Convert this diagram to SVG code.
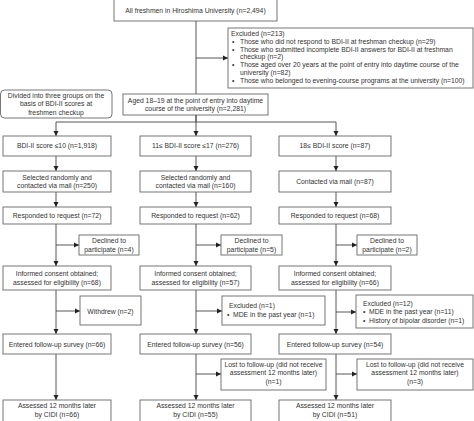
<svg xmlns="http://www.w3.org/2000/svg" width="474" height="421" viewBox="0 0 474 421">
<defs>
<marker id="ah" markerWidth="6" markerHeight="6" refX="5" refY="3" orient="auto" markerUnits="userSpaceOnUse">
<path d="M0,0.5 L5,3 L0,5.5 Z" fill="#222"/>
</marker>
<style>
rect{fill:#fff;stroke:#666;stroke-width:0.9}
text{font-family:"Liberation Sans",Arial,sans-serif;font-size:6.8px;fill:#333}
.c{text-anchor:middle}
.ln{fill:none;stroke:#444;stroke-width:0.9}
.ar{fill:none;stroke:#444;stroke-width:0.9;marker-end:url(#ah)}
</style>
</defs>
<rect x="0" y="0" width="474" height="421" style="fill:#fff;stroke:none"/>
<g id="connectors">
<path class="ln" d="M196,21 V122"/>
<path class="ar" d="M196,58 H228"/>
<path class="ln" d="M56,122 H336"/>
<path class="ar" d="M56,122 V136"/>
<path class="ar" d="M196,115 V136"/>
<path class="ar" d="M336,122 V136"/>
<path class="ar" d="M56,156 V171"/>
<path class="ar" d="M196,156 V171"/>
<path class="ar" d="M336,156 V171"/>
<path class="ar" d="M56,192 V207"/>
<path class="ar" d="M196,192 V207"/>
<path class="ar" d="M336,192 V207"/>
<path class="ar" d="M56,224 V266"/>
<path class="ar" d="M196,224 V266"/>
<path class="ar" d="M336,224 V266"/>
<path class="ar" d="M56,245 H79"/>
<path class="ar" d="M196,245 H221"/>
<path class="ar" d="M336,245 H357"/>
<path class="ar" d="M56,290 V334"/>
<path class="ar" d="M196,290 V334"/>
<path class="ar" d="M336,290 V334"/>
<path class="ar" d="M56,311 H80"/>
<path class="ar" d="M196,311 H222"/>
<path class="ar" d="M336,312 H356"/>
<path class="ar" d="M56,354 V400"/>
<path class="ar" d="M196,354 V400"/>
<path class="ar" d="M336,354 V400"/>
<path class="ar" d="M196,374 H221"/>
<path class="ar" d="M336,374 H357"/>
</g>
<g id="all"><rect x="114" y="-1" width="163" height="22"/><text class="c" x="195.5" y="12.5">All freshmen in Hiroshima University (n=2,494)</text></g>
<g id="excluded1"><rect x="228" y="28" width="245" height="60"/>
<text x="231" y="35.5">Excluded (n=213)</text>
<text x="232" y="43.5">•</text><text x="240" y="43.5">Those who did not respond to BDI-II at freshman checkup (n=29)</text>
<text x="232" y="51.5">•</text><text x="240" y="51.5">Those who submitted incomplete BDI-II answers for BDI-II at freshman</text>
<text x="240" y="59">checkup (n=2)</text>
<text x="232" y="67">•</text><text x="240" y="67">Those aged over 20 years at the point of entry into daytime course of the</text>
<text x="240" y="74.5">university (n=82)</text>
<text x="232" y="83">•</text><text x="240" y="83">Those who belonged to evening-course programs at the university (n=100)</text>
</g>
<g id="divided"><rect x="0.5" y="90" width="111.5" height="28" rx="4"/>
<text class="c" x="56" y="97.5">Divided into three groups on the</text>
<text class="c" x="56" y="106">basis of BDI-II scores at</text>
<text class="c" x="56" y="114.5">freshmen checkup</text></g>
<g id="aged"><rect x="123" y="94" width="145" height="21"/>
<text class="c" x="195.5" y="102.5">Aged 18–19 at the point of entry into daytime</text>
<text class="c" x="195.5" y="111">course of the university (n=2,281)</text></g>
<g id="bdi1"><rect x="3" y="136" width="108" height="20"/><text class="c" x="57" y="148">BDI-II score ≤10 (n=1,918)</text></g>
<g id="bdi2"><rect x="140" y="136" width="111" height="20"/><text class="c" x="195.5" y="148">11≤ BDI-II score ≤17 (n=276)</text></g>
<g id="bdi3"><rect x="279" y="136" width="112" height="20"/><text class="c" x="335" y="148">18≤ BDI-II score (n=87)</text></g>
<g id="sel1"><rect x="3" y="171" width="108" height="21"/><text class="c" x="57" y="179.5">Selected randomly and</text><text class="c" x="57" y="188">contacted via mail (n=250)</text></g>
<g id="sel2"><rect x="140" y="171" width="111" height="21"/><text class="c" x="195.5" y="179.5">Selected randomly and</text><text class="c" x="195.5" y="188">contacted via mail (n=160)</text></g>
<g id="sel3"><rect x="279" y="171" width="112" height="21"/><text class="c" x="335" y="184">Contacted  via mail (n=87)</text></g>
<g id="resp1"><rect x="3" y="207" width="108" height="17"/><text class="c" x="57" y="218">Responded to request (n=72)</text></g>
<g id="resp2"><rect x="140" y="207" width="111" height="17"/><text class="c" x="195.5" y="218">Responded to request (n=62)</text></g>
<g id="resp3"><rect x="279" y="207" width="112" height="17"/><text class="c" x="335" y="218">Responded to request (n=68)</text></g>
<g id="dec1"><rect x="79" y="235" width="60" height="20"/><text class="c" x="109" y="243">Declined to</text><text class="c" x="109" y="251.5">participate (n=4)</text></g>
<g id="dec2"><rect x="221" y="235" width="61" height="20"/><text class="c" x="251.5" y="243">Declined to</text><text class="c" x="251.5" y="251.5">participate (n=5)</text></g>
<g id="dec3"><rect x="357" y="235" width="60" height="20"/><text class="c" x="387" y="243">Declined to</text><text class="c" x="387" y="251.5">participate (n=2)</text></g>
<g id="inf1"><rect x="3" y="266" width="108" height="24"/><text class="c" x="57" y="275.5">Informed consent obtained;</text><text class="c" x="57" y="284.5">assessed for eligibility (n=68)</text></g>
<g id="inf2"><rect x="140" y="266" width="111" height="24"/><text class="c" x="195.5" y="275.5">Informed consent obtained;</text><text class="c" x="195.5" y="284.5">assessed for eligibility (n=57)</text></g>
<g id="inf3"><rect x="279" y="266" width="112" height="24"/><text class="c" x="335" y="275.5">Informed consent obtained;</text><text class="c" x="335" y="284.5">assessed for eligibility (n=66)</text></g>
<g id="withdrew"><rect x="80" y="296" width="61" height="29"/><text class="c" x="110.5" y="313.5">Withdrew (n=2)</text></g>
<g id="exc2"><rect x="222" y="296" width="103" height="29"/><text x="229" y="307.5">Excluded (n=1)</text><text x="227" y="316.5">•</text><text x="233" y="316.5">MDE in the past year (n=1)</text></g>
<g id="exc3"><rect x="356" y="295" width="117" height="33"/><text x="363" y="305.5">Excluded (n=12)</text><text x="363" y="314">•</text><text x="369" y="314">MDE in the past year (n=11)</text><text x="363" y="322.5">•</text><text x="369" y="322.5">History of bipolar disorder (n=1)</text></g>
<g id="ent1"><rect x="3" y="334" width="108" height="20"/><text class="c" x="57" y="346.5">Entered follow-up survey (n=66)</text></g>
<g id="ent2"><rect x="140" y="334" width="111" height="20"/><text class="c" x="195.5" y="346.5">Entered follow-up survey (n=56)</text></g>
<g id="ent3"><rect x="279" y="334" width="112" height="20"/><text class="c" x="335" y="346.5">Entered follow-up survey (n=54)</text></g>
<g id="lost2"><rect x="221" y="359" width="105" height="31"/><text class="c" x="273.5" y="367">Lost to follow-up (did not receive</text><text class="c" x="273.5" y="375">assessment 12 months later)</text><text class="c" x="273.5" y="383.5">(n=1)</text></g>
<g id="lost3"><rect x="357" y="359" width="116" height="31"/><text class="c" x="415" y="367">Lost to follow-up (did not receive</text><text class="c" x="415" y="375">assessment 12 months later)</text><text class="c" x="415" y="383.5">(n=3)</text></g>
<g id="as1"><rect x="3" y="400" width="108" height="26"/><text class="c" x="57" y="408">Assessed 12 months later</text><text class="c" x="57" y="416.5">by CIDI (n=66)</text></g>
<g id="as2"><rect x="140" y="400" width="111" height="26"/><text class="c" x="195.5" y="408">Assessed 12 months later</text><text class="c" x="195.5" y="416.5">by CIDI (n=55)</text></g>
<g id="as3"><rect x="279" y="400" width="112" height="26"/><text class="c" x="335" y="408">Assessed 12 months later</text><text class="c" x="335" y="416.5">by CIDI (n=51)</text></g>
</svg>
